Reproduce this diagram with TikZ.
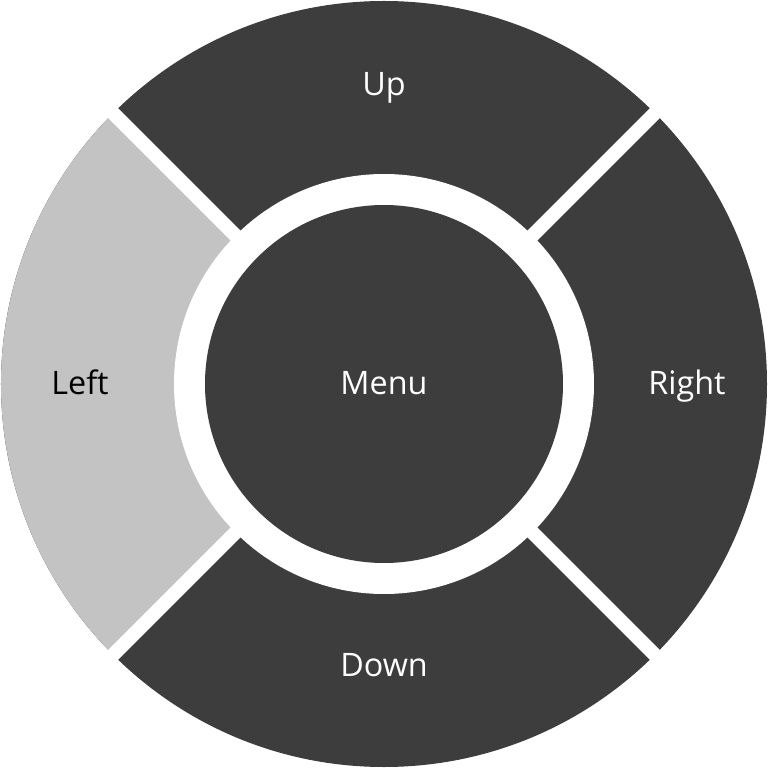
\documentclass[tikz,border=0pt]{standalone}
\usepackage{fontspec}
\setmainfont{Open Sans}
\definecolor{padDark}{RGB}{61,61,61}
\definecolor{padLight}{RGB}{195,195,195}
\tikzset{
	padlabel/.style={font=\fontsize{9.2pt}{11pt}\selectfont, text=white, anchor=base},
	padlabellight/.style={padlabel, text=black}
}
\begin{document}
\begin{tikzpicture}
	\useasboundingbox[fill=white] (-3.84,-3.84) rectangle (3.84,3.84);
	
	\fill[padDark] (0,0) circle (3.83);
	\fill[padLight] (0,0) -- (135:3.83) arc (135:225:3.83) -- cycle;
	
	\foreach \a in {45,135} {
		\draw[white, line width=0.14cm] (\a:4) -- (\a+180:4);
	}
	
	\fill[white] (0,0) circle (2.10);
	\fill[padDark] (0,0) circle (1.79);
	
	\node[padlabel] (menu) at (0,-0.11) {Menu};
	\node[padlabel] (up) at (0,2.88) {Up};
	\node[padlabel] (down) at (0,-2.92) {Down};
	\node[padlabel] (right) at (3.03,-0.11) {Right};
	\node[padlabellight] (left) at (-3.04,-0.11) {Left};
\end{tikzpicture}
\end{document}
